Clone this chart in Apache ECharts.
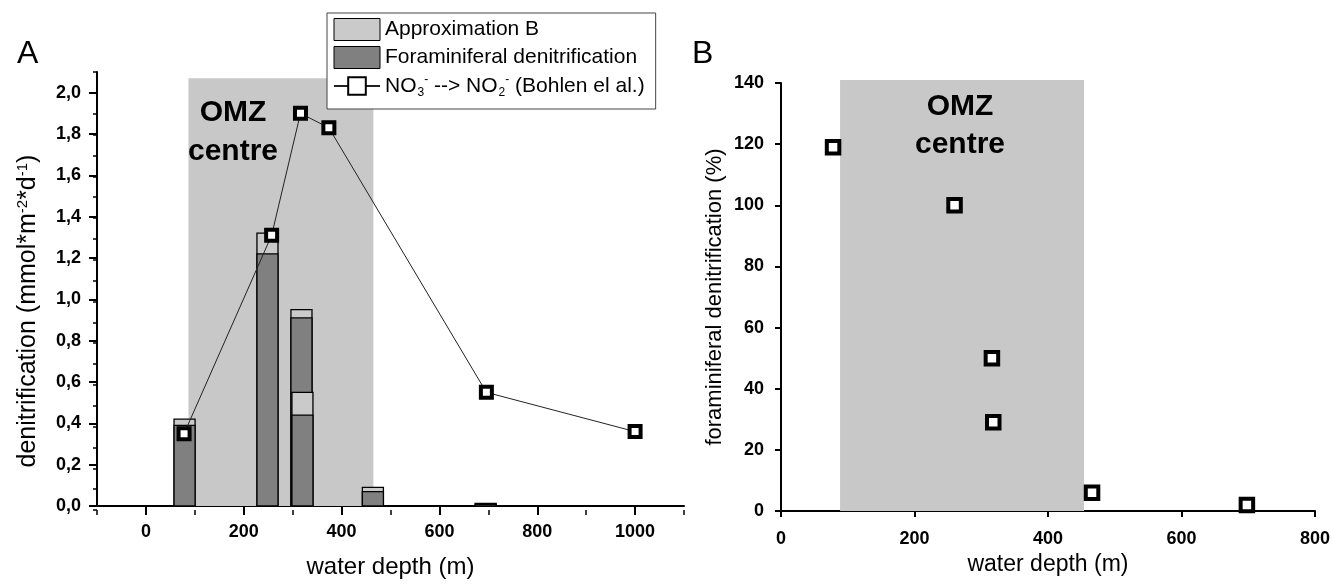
<!DOCTYPE html>
<html><head><meta charset="utf-8">
<script src="https://cdn.jsdelivr.net/npm/echarts@6/dist/echarts.min.js"></script>
<style>html,body{margin:0;padding:0;background:#fff}#c{width:1333px;height:584px}</style>
</head><body><div id="c"></div>
<script>
// ---- data ----
const barDepthA = [79, 248.5, 318, 320, 464, 694.5];
const approxB   = [0.42, 1.32, 0.95, 0.55, 0.09, 0.012];
const foramDen  = [0.39, 1.22, 0.91, 0.44, 0.07, 0.008];
const bohlenDepth = [78, 257, 316, 374, 696, 1000];
const bohlenRate  = [0.35, 1.31, 1.90, 1.83, 0.55, 0.36];
const depthB   = [78, 260, 316, 318, 466, 698];
const foramPct = [119, 100, 50, 29, 6, 2];
const omzA = [87, 465, 2.07];
const omzB = [88.5, 454, 141];
const xTicksA = [0, 200, 400, 600, 800, 1000];
const yTicksA = [0, 0.2, 0.4, 0.6, 0.8, 1.0, 1.2, 1.4, 1.6, 1.8, 2.0];
const xTicksB = [0, 200, 400, 600, 800];
const yTicksB = [0, 20, 40, 60, 80, 100, 120, 140];

const FONT = '"Liberation Sans", Arial, Helvetica, sans-serif';
const LINE_NAME = 'NO3 --> NO2 (Bohlen el al.)';
const BAR_W = 43;

const chart = echarts.init(document.getElementById('c'), null, {renderer: 'canvas'});

function shadeItem(params, api) {
  const p0 = api.coord([api.value(0), 0]);
  const p1 = api.coord([api.value(1), api.value(2)]);
  return {type: 'rect', shape: {x: p0[0], y: p1[1], width: p1[0] - p0[0], height: p0[1] - p1[1]},
          style: {fill: '#c8c8c8'}};
}
function barItem(params, api) {
  const x = api.value(0), tot = api.value(1), fo = api.value(2);
  const a = api.coord([x - BAR_W / 2, 0]);
  const b = api.coord([x + BAR_W / 2, tot]);
  const c = api.coord([x + BAR_W / 2, fo]);
  return {type: 'group', children: [
    {type: 'rect', shape: {x: a[0], y: b[1], width: b[0] - a[0], height: a[1] - b[1]},
     style: {fill: '#cacaca', stroke: '#000', lineWidth: 1.3}},
    {type: 'rect', shape: {x: a[0], y: c[1], width: c[0] - a[0], height: a[1] - c[1]},
     style: {fill: '#808080', stroke: '#000', lineWidth: 1.3}}
  ]};
}

const labelStyle = {fontFamily: FONT, fontWeight: 'bold', fontSize: 18, color: '#000'};
const axisLine = {show: true, onZero: false, lineStyle: {color: '#000', width: 2}};
const plain = v => String(v);

const option = {
  animation: false,
  backgroundColor: '#fff',
  textStyle: {fontFamily: FONT},
  grid: [
    {left: 97, top: 72, width: 587, height: 438},
    {left: 781, top: 83, width: 534, height: 428},
    {left: 97, top: 72, width: 587, height: 438}
  ],
  xAxis: [
    {type: 'value', gridIndex: 0, min: -100, max: 1100, axisLine,
     splitLine: {show: false},
     axisTick: {show: true, length: 9, lineStyle: {color: '#000', width: 2}, customValues: xTicksA},
     axisLabel: Object.assign({margin: 17, customValues: xTicksA, formatter: plain}, labelStyle),
     name: 'water depth (m)', nameLocation: 'middle', nameGap: 49,
     nameTextStyle: {fontFamily: FONT, fontSize: 24, color: '#000'}},
    {type: 'value', gridIndex: 1, min: 0, max: 800, interval: 200, axisLine,
     splitLine: {show: false},
     axisTick: {show: true, length: 6, lineStyle: {color: '#000', width: 2}, customValues: xTicksB},
     axisLabel: Object.assign({margin: 19, customValues: xTicksB, formatter: plain}, labelStyle),
     name: 'water depth (m)', nameLocation: 'middle', nameGap: 40,
     nameTextStyle: {fontFamily: FONT, fontSize: 23, color: '#000'}},
    {type: 'value', gridIndex: 2, min: -100, max: 1100, interval: 100,
     axisLine: {show: false, onZero: false}, splitLine: {show: false}, axisLabel: {show: false},
     axisTick: {show: true, length: 5, lineStyle: {color: '#000', width: 1.5}}}
  ],
  yAxis: [
    {type: 'value', gridIndex: 0, min: 0, max: 2.1, axisLine,
     splitLine: {show: false},
     axisTick: {show: true, length: 8, lineStyle: {color: '#000', width: 2}, customValues: yTicksA},
     axisLabel: Object.assign({margin: 16, customValues: yTicksA,
       formatter: v => v.toFixed(1).replace('.', ',')}, labelStyle),
     name: 'denitrification (mmol*m{sup|-2}*d{sup|-1})', nameLocation: 'middle', nameGap: 55,
     nameTextStyle: {fontFamily: FONT, fontSize: 25, color: '#000', padding: [0, 44, 0, 0],
       rich: {sup: {fontFamily: FONT, fontSize: 15, color: '#000', padding: [0, 0, 12, 0]}}}},
    {type: 'value', gridIndex: 1, min: 0, max: 140, interval: 20, axisLine,
     splitLine: {show: false},
     axisTick: {show: true, length: 6, lineStyle: {color: '#000', width: 2}, customValues: yTicksB},
     axisLabel: Object.assign({margin: 17, customValues: yTicksB, formatter: plain}, labelStyle),
     name: 'foraminiferal denitrification (%)', nameLocation: 'middle', nameGap: 55,
     nameTextStyle: {fontFamily: FONT, fontSize: 22, color: '#000'}},
    {type: 'value', gridIndex: 2, min: 0, max: 2.1, interval: 0.1,
     axisLine: {show: false, onZero: false}, splitLine: {show: false}, axisLabel: {show: false},
     axisTick: {show: true, length: 4, lineStyle: {color: '#000', width: 1.5}}}
  ],
  legend: {
    orient: 'vertical', left: 327, top: 13, selectedMode: false,
    padding: [5, 11, 10, 6], itemGap: 5, itemWidth: 46, itemHeight: 22,
    backgroundColor: '#fff', borderColor: '#444', borderWidth: 1,
    textStyle: {fontFamily: FONT, fontSize: 21, color: '#000',
      rich: {
        sub: {fontFamily: FONT, fontSize: 12, color: '#000', padding: [14, 0, 0, 1]},
        sup: {fontFamily: FONT, fontSize: 12, color: '#000', padding: [0, 0, 12, 0]}
      }},
    formatter: n => n === LINE_NAME ? 'NO{sub|3}{sup|-} --> NO{sub|2}{sup|-} (Bohlen el al.)' : n,
    data: [
      {name: 'Approximation B', icon: 'rect', itemStyle: {color: '#cacaca', borderColor: '#000', borderWidth: 1}},
      {name: 'Foraminiferal denitrification', icon: 'rect', itemStyle: {color: '#808080', borderColor: '#000', borderWidth: 1}},
      {name: LINE_NAME}
    ]
  },
  series: [
    {type: 'custom', name: 'omzA', xAxisIndex: 0, yAxisIndex: 0, z: 1, silent: true, clip: false,
     renderItem: shadeItem, encode: {x: [0, 1], y: 2}, data: [omzA]},
    {type: 'custom', name: 'bars', xAxisIndex: 0, yAxisIndex: 0, z: 2, silent: true,
     renderItem: barItem, encode: {x: 0, y: [1, 2]},
     data: barDepthA.map((d, i) => [d, approxB[i], foramDen[i]])},
    {type: 'custom', name: 'Approximation B', xAxisIndex: 0, yAxisIndex: 0,
     itemStyle: {color: '#cacaca'}, renderItem: () => null, data: []},
    {type: 'custom', name: 'Foraminiferal denitrification', xAxisIndex: 0, yAxisIndex: 0,
     itemStyle: {color: '#808080'}, renderItem: () => null, data: []},
    {type: 'line', name: LINE_NAME, xAxisIndex: 0, yAxisIndex: 0, z: 3,
     symbol: 'rect', symbolSize: 11, showAllSymbol: true,
     itemStyle: {color: '#fff', borderColor: '#000', borderWidth: 4},
     lineStyle: {color: '#222', width: 1},
     data: bohlenDepth.map((d, i) => [d, bohlenRate[i]])},
    {type: 'custom', name: 'omzB', xAxisIndex: 1, yAxisIndex: 1, z: 1, silent: true, clip: false,
     renderItem: shadeItem, encode: {x: [0, 1], y: 2}, data: [omzB]},
    {type: 'scatter', name: 'pctB', xAxisIndex: 1, yAxisIndex: 1, z: 3,
     symbol: 'rect', symbolSize: 12.5,
     itemStyle: {color: '#fff', borderColor: '#000', borderWidth: 4, opacity: 1},
     data: depthB.map((d, i) => [d, foramPct[i]])}
  ],
  graphic: [
    {type: 'text', x: 17, y: 54, z: 10, style: {text: 'A', fontFamily: FONT, fontSize: 32, fill: '#000', textVerticalAlign: 'middle'}},
    {type: 'text', x: 692, y: 54, z: 10, style: {text: 'B', fontFamily: FONT, fontSize: 32, fill: '#000', textVerticalAlign: 'middle'}},
    {type: 'text', x: 233, y: 112.5, z: 10, style: {text: 'OMZ', fontFamily: FONT, fontWeight: 'bold', fontSize: 30, fill: '#000', textAlign: 'center', textVerticalAlign: 'middle'}},
    {type: 'text', x: 233, y: 151.5, z: 10, style: {text: 'centre', fontFamily: FONT, fontWeight: 'bold', fontSize: 30, fill: '#000', textAlign: 'center', textVerticalAlign: 'middle'}},
    {type: 'text', x: 960, y: 106.5, z: 10, style: {text: 'OMZ', fontFamily: FONT, fontWeight: 'bold', fontSize: 30, fill: '#000', textAlign: 'center', textVerticalAlign: 'middle'}},
    {type: 'text', x: 960, y: 144.5, z: 10, style: {text: 'centre', fontFamily: FONT, fontWeight: 'bold', fontSize: 30, fill: '#000', textAlign: 'center', textVerticalAlign: 'middle'}}
  ]
};
chart.setOption(option);
</script>
</body></html>
